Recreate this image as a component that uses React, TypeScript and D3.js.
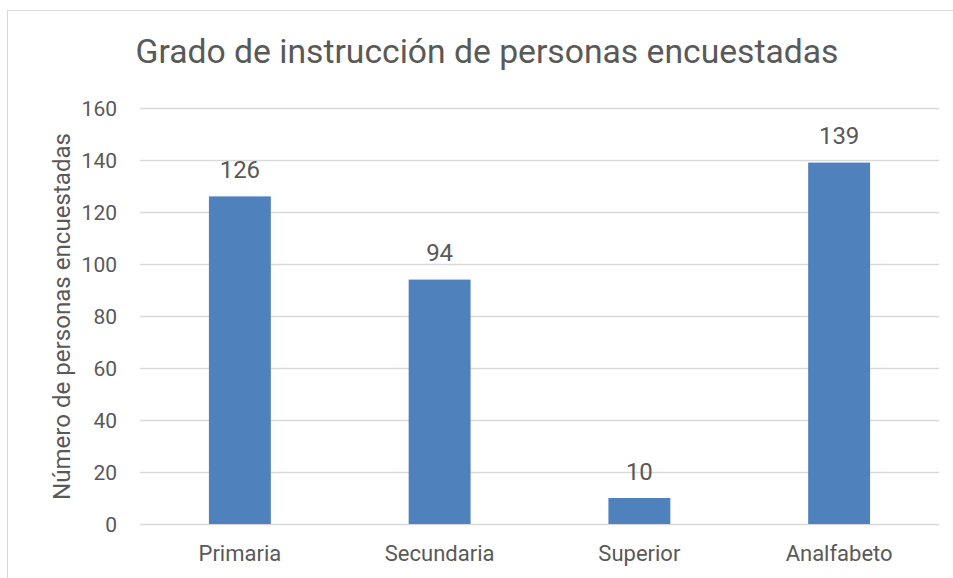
import React from "react";
import * as d3 from "d3";

const categories = ["Primaria", "Secundaria", "Superior", "Analfabeto"];
const values = [126, 94, 10, 139];
const yTicks = [0, 20, 40, 60, 80, 100, 120, 140, 160];
const title = "Grado de instrucción de personas encuestadas";
const yTitle = "Número de personas encuestadas";

const W = 953;
const H = 578;
const FONT = "Roboto, 'Noto Sans', sans-serif";
const TEXT = "#595959";

export default function App() {
  const margin = { left: 140, right: 14, top: 108, bottom: 54 };
  const x = d3
    .scaleBand<string>()
    .domain(categories)
    .range([margin.left, W - margin.right])
    .paddingInner(0.69)
    .paddingOuter(0.345);
  const y = d3.scaleLinear().domain([0, 160]).range([H - margin.bottom, margin.top]);

  return (
    <svg
      width={W}
      height={H}
      style={{ position: "absolute", left: 0, top: 0, background: "#fff" }}
      fontFamily={FONT}
    >
      <rect x={7.5} y={10.5} width={W + 10} height={H + 10} fill="#fff" stroke="#d9d9d9" strokeWidth={1} />
      <text x={487} y={63} textAnchor="middle" fontSize={33} fill={TEXT} textLength={703} lengthAdjust="spacingAndGlyphs">
        {title}
      </text>
      {yTicks.map((t) => (
        <g key={t}>
          <line
            x1={margin.left}
            x2={W - margin.right}
            y1={Math.round(y(t)) + 0.5}
            y2={Math.round(y(t)) + 0.5}
            stroke="#d9d9d9"
            strokeWidth={1.3}
          />
          <text x={117} y={y(t) + 1} dy="0.35em" textAnchor="end" fontSize={21} fill={TEXT}>
            {t}
          </text>
        </g>
      ))}
      <text
        transform={`translate(70,316.5) rotate(-90)`}
        textAnchor="middle"
        fontSize={24}
        fill={TEXT}
        textLength={367}
        lengthAdjust="spacingAndGlyphs"
      >
        {yTitle}
      </text>
      {categories.map((c, i) => (
        <g key={c}>
          <rect
            x={x(c)}
            y={y(values[i])}
            width={x.bandwidth()}
            height={y(0) - y(values[i])}
            fill="#4f81bd"
          />
          <text
            x={(x(c) as number) + x.bandwidth() / 2}
            y={y(values[i]) - 18.5}
            textAnchor="middle"
            fontSize={24}
            fill={TEXT}
          >
            {values[i]}
          </text>
          <text
            x={(x(c) as number) + x.bandwidth() / 2}
            y={y(0) + 37}
            textAnchor="middle"
            fontSize={22}
            fill={TEXT}
          >
            {c}
          </text>
        </g>
      ))}
    </svg>
  );
}
